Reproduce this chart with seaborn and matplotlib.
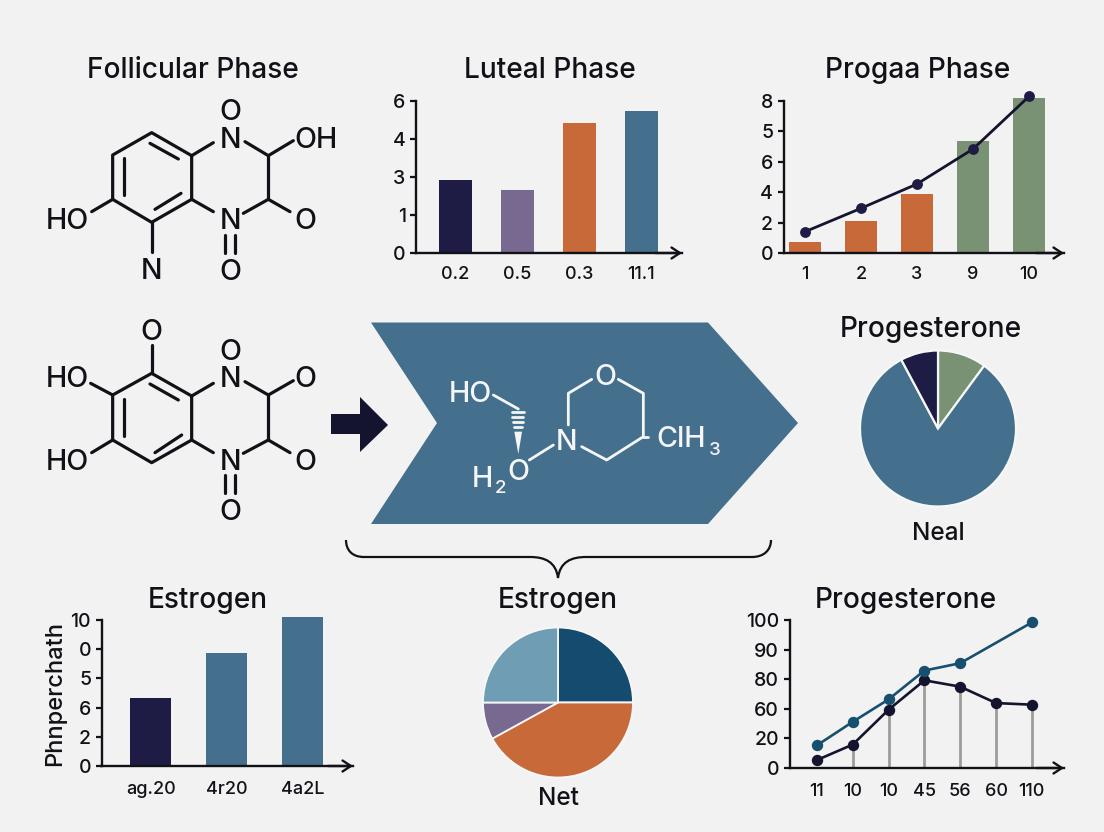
import numpy as np
import pandas as pd
import matplotlib
matplotlib.use("Agg")
import matplotlib.pyplot as plt
from matplotlib.patches import Polygon, PathPatch
from matplotlib.path import Path
import seaborn as sns

W, H = 1104, 832
BG = "#F2F2F3"
INK = "#111118"
NAVY = "#1E1C45"
BLUE = "#44708D"
ORANGE = "#C8693A"
GREEN = "#7A9274"
PURPLE = "#77698F"
DEEP = "#154B6E"
LIGHT = "#6F9DB3"

# ---- chart data ----
luteal_cats = ["0.2", "0.5", "0.3", "11.1"]
luteal_vals = [1.93, 1.67, 3.42, 3.74]
luteal_ylabels = ["0", "1", "3", "4", "6"]

prog_cats = ["1", "2", "3", "9", "10"]
prog_bars = [0.74, 2.12, 3.9, 7.39, 10.18]
prog_line = [1.4, 2.94, 4.54, 6.84, 10.3]
prog_ylabels = ["0", "2", "4", "6", "5", "8"]

estro_cats = ["ag.20", "4r20", "4a2L"]
estro_vals = [2.32, 3.86, 5.1]
estro_ylabels = ["0", "2", "6", "5", "0", "10"]

trend_xlabels = ["11", "10", "10", "45", "56", "60", "110"]
trend_navy = [5.4, 15.9, 39.5, 59.4, 55.1, 44.0, 42.9]
trend_blue_pos = [0, 1, 2, 3, 4, 6]
trend_blue = [15.4, 31.3, 46.5, 66.0, 71.0, 98.6]
trend_ylabels = ["0", "20", "60", "80", "90", "100"]

pie1_vals = [10.1, 82.1, 7.8]
pie2_vals = [25, 42, 8, 25]

sns.set_theme(style="white")
plt.rcParams["font.family"] = ["Inter", "DejaVu Sans"]
plt.rcParams["font.weight"] = 500
plt.rcParams["text.color"] = INK
plt.rcParams["axes.facecolor"] = "none"

fig = plt.figure(figsize=(W / 100, H / 100), dpi=100, facecolor=BG)
ov = fig.add_axes([0, 0, 1, 1])
ov.set_xlim(0, W)
ov.set_ylim(H, 0)
ov.axis("off")

PT = 100 / 72


def axes_px(x0, y_bottom, x1, y_top):
    return fig.add_axes([x0 / W, 1 - y_bottom / H, (x1 - x0) / W, (y_bottom - y_top) / H])


def style_axis(ax, spine_x, base_y, top_y, right_x, first_x, step_x, y_labels, px_per_unit, y_step, x_pad):
    top_val = y_step * (len(y_labels) - 1)
    ax.set_xlim((spine_x - first_x) / step_x, (right_x - first_x) / step_x)
    ax.set_ylim(0, (base_y - (top_y - 22)) / px_per_unit)
    sns.despine(ax=ax)
    for side in ("left", "bottom"):
        ax.spines[side].set_linewidth(1.7)
        ax.spines[side].set_color(INK)
    ax.spines["left"].set_bounds(0, top_val)
    ax.set_yticks([y_step * i for i in range(len(y_labels))], y_labels)
    ax.set_yticks([top_val], minor=True)
    ax.tick_params(axis="y", which="major", left=True, length=4.5, width=1.6, color=INK,
                   labelsize=14, pad=3, labelcolor=INK)
    ax.tick_params(axis="y", which="minor", left=True, direction="in", length=4.5, width=1.6, color=INK)
    ax.tick_params(axis="x", length=0, labelsize=13, pad=x_pad, labelcolor=INK)
    ax.set_xlabel("")
    ax.set_ylabel("")
    ax.patch.set_alpha(0)
    ax.annotate("", xy=(1, 0), xytext=(0.9, 0), xycoords="axes fraction",
                arrowprops=dict(arrowstyle="->,head_length=0.5,head_width=0.33", lw=1.7, color=INK,
                                shrinkA=0, shrinkB=0), annotation_clip=False)


def bars(ax, cats, vals, colors, width):
    df = pd.DataFrame({"cat": cats, "val": vals})
    sns.barplot(data=df, x="cat", y="val", hue="cat", palette=colors, legend=False,
                width=width, saturation=1, ax=ax, order=cats, hue_order=cats, linewidth=0)


# ---- bar chart: Luteal ----
ax = axes_px(416, 253, 682, 79)
bars(ax, luteal_cats, luteal_vals, [NAVY, PURPLE, ORANGE, BLUE], 33 / 62)
style_axis(ax, 416, 253, 101, 682, 455, 62, luteal_ylabels, 38, 1, 9.5)

# ---- bar + line: Progaa ----
ax = axes_px(783.5, 253, 1064, 79)
bars(ax, prog_cats, prog_bars, [ORANGE, ORANGE, ORANGE, GREEN, GREEN], 32 / 56)
sns.lineplot(x=list(range(len(prog_line))), y=prog_line, color="#14142E", linewidth=2.0, marker="o",
             markersize=7.8, markeredgewidth=0, markerfacecolor=NAVY, ax=ax, zorder=5)
for l in ax.lines:
    l.set_clip_on(False)
style_axis(ax, 783.5, 253, 101, 1064, 805, 56, prog_ylabels, 15.2, 2, 9.5)

# ---- bar chart: Estrogen ----
ax = axes_px(101.5, 766, 353, 598)
bars(ax, estro_cats, estro_vals, [NAVY, BLUE, BLUE], 41 / 76)
style_axis(ax, 101.5, 766, 620, 353, 150.7, 76, estro_ylabels, 29.2, 1, 11)
ov.text(55, 693, "Phnperchath", rotation=90, ha="center", va="center", fontsize=17, color=INK)

# ---- lines: Progesterone ----
ax = axes_px(789.5, 768, 1064, 598)
xs = list(range(len(trend_navy)))
ax.vlines(xs[1:], 0, trend_navy[1:], color="#9C9C9C", linewidth=2.0, zorder=1)
sns.lineplot(x=xs, y=trend_navy, color="#14142E", linewidth=1.9, marker="o", markersize=8.2,
             markeredgewidth=0, ax=ax, zorder=3)
sns.lineplot(x=trend_blue_pos, y=trend_blue, color="#17506F", linewidth=1.9, marker="o", markersize=8.2,
             markeredgewidth=0, ax=ax, zorder=4)
ax.set_xticks(xs, trend_xlabels)
style_axis(ax, 789.5, 768, 620.7, 1064, 817, 35.8, trend_ylabels, 1.47, 20, 11)

# ---- pies ----
def pie(cx, cy, r, vals, colors, start, lw):
    a = axes_px(cx - r, cy + r, cx + r, cy - r)
    a.pie(vals, colors=colors, startangle=start, counterclock=False, radius=1,
          wedgeprops=dict(edgecolor="#F6F7F7", linewidth=lw))
    a.set_xlim(-1, 1)
    a.set_ylim(-1, 1)


pie(938, 428.5, 78, pie1_vals, [GREEN, BLUE, NAVY], 90, 1.6)
pie(558, 702.5, 75, pie2_vals, [DEEP, ORANGE, PURPLE, LIGHT], 90, 1.3)

# ---- titles ----
titles = [("Follicular Phase", 193, 78), ("Luteal Phase", 550, 78), ("Progaa Phase", 918, 78),
          ("Progesterone", 931, 337), ("Estrogen", 208, 608), ("Estrogen", 558, 608),
          ("Progesterone", 906, 608)]
for s, x, y in titles:
    ov.text(x, y, s, ha="center", va="baseline", fontsize=20.2, color=INK)
ov.text(938, 540, "Neal", ha="center", va="baseline", fontsize=17.5, color=INK)
ov.text(558, 805, "Net", ha="center", va="baseline", fontsize=17.5, color=INK)


# ---- molecule helpers (coordinates are in the crop space used for tracing) ----
def draw_bonds(bonds, ox, oy, color, lw):
    for b in bonds:
        p = np.array(b, float) / 3 + [ox, oy]
        ov.plot(p[:, 0], p[:, 1], color=color, lw=lw, solid_capstyle="round", solid_joinstyle="round")


def atoms(items, ox, oy, color, size):
    cap = size * PT * 0.727
    for s, x, y in items:
        ov.text(x / 3 + ox, y / 3 + oy + cap / 2, s, ha="center", va="baseline", fontsize=size, color=color)


mol1_bonds = [
    [(575, 347), (455, 278), (338, 345), (338, 478), (455, 547), (575, 478), (575, 347)],
    [(450, 310), (535, 357)], [(372, 355), (372, 465)], [(465, 508), (543, 460)],
    [(575, 347), (640, 308)], [(735, 305), (805, 347), (880, 302)], [(805, 347), (805, 478)],
    [(730, 520), (805, 478), (870, 515)], [(575, 478), (640, 515)],
    [(675, 585), (675, 640)], [(705, 585), (705, 640)], [(338, 478), (275, 515)],
    [(455, 547), (455, 635)],
]
mol1_atoms = [("O", 690, 210), ("N", 690, 292), ("OH", 948, 292), ("O", 915, 535), ("N", 690, 535),
              ("O", 690, 688), ("HO", 203, 535), ("N", 455, 685)]

mol2_bonds = [
    [(575, 1068), (455, 1000), (338, 1065), (338, 1200), (455, 1268), (575, 1200), (575, 1068)],
    [(450, 1032), (535, 1080)], [(372, 1078), (372, 1187)], [(465, 1238), (545, 1185)],
    [(455, 915), (455, 1000)], [(272, 1030), (338, 1065)], [(275, 1238), (338, 1200)],
    [(575, 1068), (640, 1030)], [(735, 1025), (805, 1065), (880, 1022)], [(805, 1065), (805, 1200)],
    [(730, 1240), (805, 1200), (870, 1238)], [(575, 1200), (640, 1238)],
    [(675, 1305), (675, 1360)], [(705, 1305), (705, 1360)],
]
mol2_atoms = [("O", 455, 870), ("O", 690, 928), ("N", 690, 1010), ("O", 915, 1010), ("HO", 203, 1010),
              ("HO", 203, 1258), ("N", 690, 1258), ("O", 915, 1258), ("O", 690, 1410)]

ATOM = 20.6
draw_bonds(mol1_bonds, 0, 40, INK, 2.3)
atoms(mol1_atoms, 0, 40, INK, ATOM)
draw_bonds(mol2_bonds, 0, 40, INK, 2.3)
atoms(mol2_atoms, 0, 40, INK, ATOM)

# ---- small arrow ----
ov.add_patch(Polygon([(331, 414), (360, 414), (360, 397), (388, 425), (360, 452), (360, 434), (331, 434)],
                     closed=True, fc="#14142E", ec="none"))

# ---- chevron ----
ov.add_patch(Polygon([(371, 322.5), (708, 322.5), (798, 423), (708, 524), (371, 524), (437, 423)],
                     closed=True, fc=BLUE, ec="none"))

WHITE = "#F4F6F7"
mol3_bonds = [
    [(370, 255), (445, 297)], [(478, 450), (550, 405)],
    [(595, 345), (595, 250), (665, 208)], [(745, 208), (820, 250), (820, 380), (710, 450), (635, 410)],
    [(820, 380), (835, 380)],
    [(425, 305), (462, 305)], [(427, 320), (460, 320)], [(429, 335), (458, 335)], [(431, 350), (456, 350)],
]
draw_bonds(mol3_bonds, 370, 310, WHITE, 2.0)
ov.add_patch(Polygon([(370 + 433 / 3, 310 + 365 / 3), (370 + 456 / 3, 310 + 365 / 3), (370 + 445 / 3, 310 + 432 / 3)],
                     closed=True, fc=WHITE, ec="none"))
atoms([("HO", 300, 245), ("N", 590, 390), ("O", 705, 195), ("H", 337, 500), ("O", 445, 480)],
      370, 310, WHITE, ATOM)
atoms([("2", 392, 530), ("3", 1035, 415)], 370, 310, WHITE, 13.5)
ov.text(370 + 858 / 3, 310 + 380 / 3 + ATOM * PT * 0.727 / 2, "ClH", ha="left", va="baseline",
        fontsize=ATOM, color=WHITE)

# ---- brace ----
verts = [(346, 540), (346, 550), (352, 557), (364, 557), (530, 557), (545, 557), (556, 562), (558, 578),
         (560, 562), (571, 557), (586, 557), (752, 557), (764, 557), (771, 550), (771, 540)]
codes = [Path.MOVETO, Path.CURVE4, Path.CURVE4, Path.CURVE4, Path.LINETO, Path.CURVE4, Path.CURVE4, Path.CURVE4,
         Path.CURVE4, Path.CURVE4, Path.CURVE4, Path.LINETO, Path.CURVE4, Path.CURVE4, Path.CURVE4]
ov.add_patch(PathPatch(Path(verts, codes), fc="none", ec=INK, lw=1.6))

fig.savefig("out.png", dpi=100, facecolor=BG)
